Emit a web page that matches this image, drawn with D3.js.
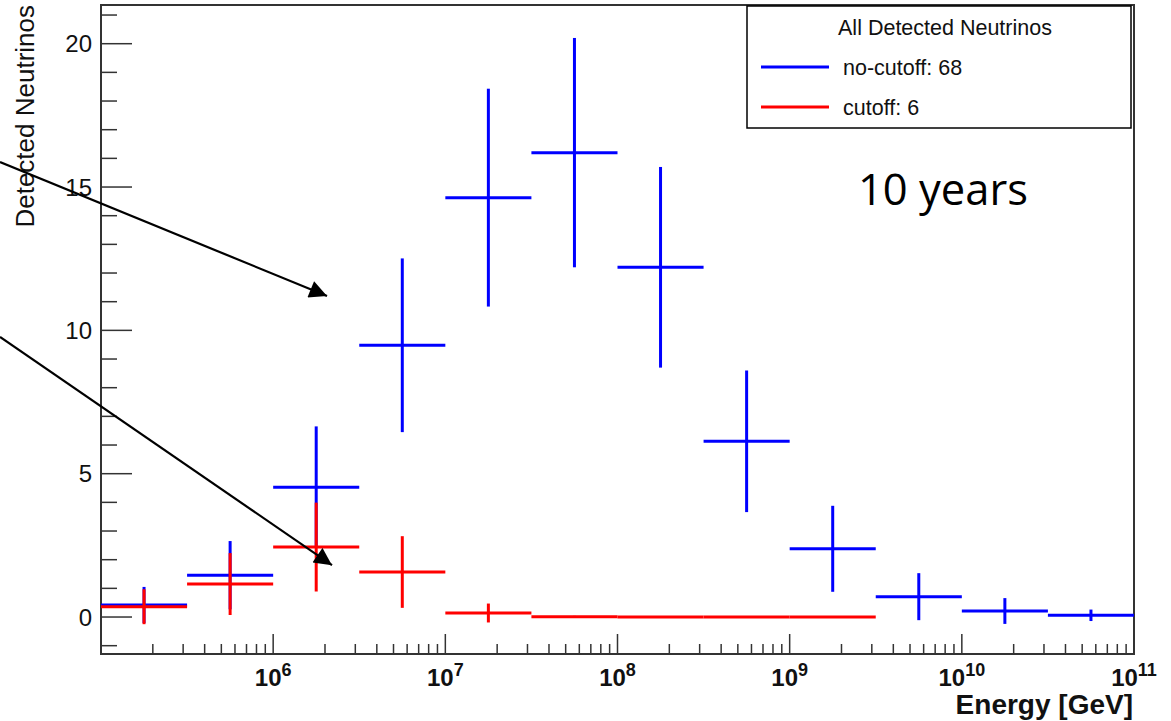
<!DOCTYPE html>
<html>
<head>
<meta charset="utf-8">
<script src="https://cdn.jsdelivr.net/npm/d3@7"></script>
<style>
  body { margin: 0; background: #fff; }
  svg { display: block; }
</style>
</head>
<body>
<div id="chart"></div>
<script>
// energy bin edges [GeV], half-decade bins
const binEdges = [1e5, 3.162e5, 1e6, 3.162e6, 1e7, 3.162e7, 1e8, 3.162e8, 1e9, 3.162e9, 1e10, 3.162e10, 1e11];

// no-cutoff histogram (blue)
const noCutoff    = [0.42, 1.46, 4.53, 9.48, 14.63, 16.2, 12.2, 6.13, 2.38, 0.71, 0.21, 0.06];
const noCutoffErr = [0.63, 1.19, 2.12, 3.03, 3.8, 4.0, 3.5, 2.47, 1.5, 0.82, 0.45, 0.2];

// cutoff histogram (red)
const cutoff    = [0.36, 1.15, 2.44, 1.57, 0.14, 0.01, 0.005, 0.003, 0.002, 0, 0, 0];
const cutoffErr = [0.61, 1.08, 1.55, 1.25, 0.33, 0.03, 0.02, 0.01, 0.01, 0, 0, 0];

const yTicks = [0, 5, 10, 15, 20];
const xDecades = [1e6, 1e7, 1e8, 1e9, 1e10, 1e11];
const xExponents = ["6", "7", "8", "9", "10", "11"];

const legendTitle = "All Detected Neutrinos";
const legendLabels = ["no-cutoff: 68", "cutoff: 6"];

// arrows in data coords: [E start, y start, E tip, y tip]
const arrows = [
  [2.59e4, 15.87, 2.055e6, 11.20],
  [2.59e4, 9.77, 2.196e6, 1.81]
];

/**
* LAYOUT
* */
const width = 1171, height = 721;
const frame = { left: 101, right: 1134, top: 5, bottom: 654 };

const svg = d3.select("#chart")
  .append("svg")
  .attr("width", width)
  .attr("height", height);

const x = d3.scaleLog()
  .domain([1e5, 1e11])
  .range([frame.left, frame.right]);

const y = d3.scaleLinear()
  .domain([-1.29, 21.35])
  .range([frame.bottom, frame.top]);

const axisColor = "#333";
const font = "'Liberation Sans', Arial, sans-serif";

// frame
svg.append("rect")
  .attr("x", frame.left)
  .attr("y", frame.top)
  .attr("width", frame.right - frame.left)
  .attr("height", frame.bottom - frame.top)
  .attr("fill", "none")
  .attr("stroke", axisColor)
  .attr("stroke-width", 2);

// y ticks (inside, to the right)
const yMinor = d3.range(-1, 22, 1);
svg.append("g").selectAll("line")
  .data(yMinor)
  .enter()
  .append("line")
  .attr("x1", frame.left)
  .attr("x2", d => frame.left + (d % 5 === 0 ? 31 : 16))
  .attr("y1", d => y(d))
  .attr("y2", d => y(d))
  .attr("stroke", axisColor)
  .attr("stroke-width", 1.5);

svg.append("g").selectAll("text")
  .data(yTicks)
  .enter()
  .append("text")
  .attr("x", 92)
  .attr("y", d => y(d))
  .attr("dy", "0.36em")
  .attr("text-anchor", "end")
  .style("font-family", font)
  .style("font-size", "24px")
  .attr("fill", "#111")
  .text(d => d);

// x ticks (upward from the axis)
const xMinor = [];
for (let e = 5; e < 11; e++) {
  for (let m = 1; m <= 9; m++) {
    const v = m * Math.pow(10, e);
    if (v > 1e5 && v <= 1e11) xMinor.push(v);
  }
}
xMinor.push(1e11);
svg.append("g").selectAll("line")
  .data(xMinor)
  .enter()
  .append("line")
  .attr("x1", d => x(d))
  .attr("x2", d => x(d))
  .attr("y1", frame.bottom)
  .attr("y2", d => {
    const lg = Math.log10(d);
    return frame.bottom - (Math.abs(lg - Math.round(lg)) < 1e-9 ? 20 : 10);
  })
  .attr("stroke", axisColor)
  .attr("stroke-width", 1.5);

const xLabels = svg.append("g").selectAll("text")
  .data(xDecades)
  .enter()
  .append("text")
  .attr("x", d => x(d))
  .attr("y", 686)
  .attr("text-anchor", "middle")
  .style("font-family", font)
  .style("font-weight", "bold")
  .style("font-size", "24px")
  .attr("fill", "#111");
xLabels.append("tspan").text("10");
xLabels.append("tspan")
  .attr("dy", -10)
  .style("font-size", "18px")
  .text((d, i) => xExponents[i]);

// axis titles
svg.append("text")
  .attr("x", 1133)
  .attr("y", 714)
  .attr("text-anchor", "end")
  .style("font-family", font)
  .style("font-weight", "bold")
  .style("font-size", "28px")
  .attr("fill", "#111")
  .text("Energy [GeV]");

svg.append("text")
  .attr("transform", "translate(34,5) rotate(-90)")
  .attr("text-anchor", "end")
  .style("font-family", font)
  .style("font-size", "26px")
  .attr("fill", "#111")
  .text("Detected Neutrinos");

// histograms with error bars
function drawHist(values, errs, color) {
  const bins = values.map((v, i) => ({
    v: v, e: errs[i], lo: binEdges[i], hi: binEdges[i + 1]
  })).filter(d => d.v > 0);

  const g = svg.append("g")
    .attr("stroke", color)
    .attr("stroke-width", 3);

  g.selectAll(".h")
    .data(bins)
    .enter()
    .append("line")
    .attr("x1", d => x(d.lo))
    .attr("x2", d => x(d.hi))
    .attr("y1", d => y(d.v))
    .attr("y2", d => y(d.v));

  g.selectAll(".v")
    .data(bins)
    .enter()
    .append("line")
    .attr("x1", d => x(Math.sqrt(d.lo * d.hi)))
    .attr("x2", d => x(Math.sqrt(d.lo * d.hi)))
    .attr("y1", d => y(d.v - d.e))
    .attr("y2", d => y(d.v + d.e));
}
drawHist(noCutoff, noCutoffErr, "#0000ff");
drawHist(cutoff, cutoffErr, "#ff0000");

// legend
const lg = svg.append("g");
lg.append("rect")
  .attr("x", 747)
  .attr("y", 6)
  .attr("width", 384)
  .attr("height", 122)
  .attr("fill", "#fff")
  .attr("stroke", "#000")
  .attr("stroke-width", 1.5);
lg.append("text")
  .attr("x", 945)
  .attr("y", 35)
  .attr("text-anchor", "middle")
  .style("font-family", font)
  .style("font-size", "21.5px")
  .attr("fill", "#111")
  .text(legendTitle);
const legendColors = ["#0000ff", "#ff0000"];
legendLabels.forEach((lab, i) => {
  const ly = 67 + i * 40;
  lg.append("line")
    .attr("x1", 761).attr("x2", 829)
    .attr("y1", ly).attr("y2", ly)
    .attr("stroke", legendColors[i])
    .attr("stroke-width", 3);
  lg.append("text")
    .attr("x", 843)
    .attr("y", ly + 8)
    .style("font-family", font)
    .style("font-size", "21.5px")
    .attr("fill", "#111")
    .text(lab);
});

// "10 years" note
svg.append("text")
  .attr("x", 858)
  .attr("y", 205)
  .style("font-family", "'Open Sans', 'Noto Sans', sans-serif")
  .style("font-size", "43.5px")
  .attr("fill", "#000")
  .text("10 years");

// arrows
svg.append("defs").append("marker")
  .attr("id", "head")
  .attr("viewBox", "0 0 10 10")
  .attr("refX", 10)
  .attr("refY", 5)
  .attr("markerWidth", 8.5)
  .attr("markerHeight", 8)
  .attr("markerUnits", "strokeWidth")
  .attr("orient", "auto")
  .append("path")
  .attr("d", "M0,0 L10,5 L0,10 Z")
  .attr("fill", "#000");

svg.append("g").selectAll("line")
  .data(arrows)
  .enter()
  .append("line")
  .attr("x1", d => x(d[0]))
  .attr("y1", d => y(d[1]))
  .attr("x2", d => x(d[2]))
  .attr("y2", d => y(d[3]))
  .attr("stroke", "#000")
  .attr("stroke-width", 2.2)
  .attr("marker-end", "url(#head)");
</script>
</body>
</html>
